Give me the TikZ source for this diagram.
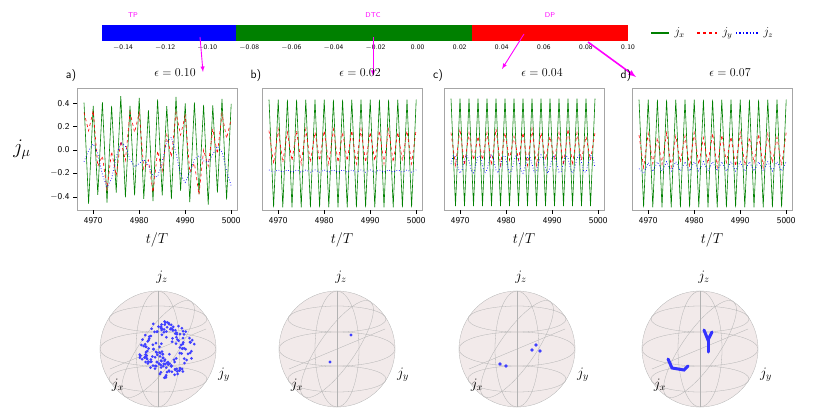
\documentclass[tikz,border=0pt]{standalone}
\usepackage{tikz}
\usetikzlibrary{calc}
\usepackage{xcolor}
\definecolor{phaseBlue}{RGB}{0, 0, 255}
\definecolor{phaseGreen}{RGB}{0, 128, 0}
\definecolor{phaseRed}{RGB}{255, 0, 0}
\definecolor{markColor}{RGB}{255, 0, 255}
\definecolor{ballColor}{RGB}{242, 234, 234}

\tikzset{
  jx/.style={draw=phaseGreen, line width=0.6pt},
  jy/.style={draw=phaseRed, dashed, line width=0.6pt},
  jz/.style={draw=phaseBlue, dotted, line width=0.7pt},
  pick/.style={markColor, -latex, line width=0.9pt},
  tick/.style={font=\sffamily\small},
  grid/.style={gray!60, line width=0.3pt},
  dot/.style={fill=phaseBlue!75}
}

\newcommand{\panelbox}[4]{% x0, label, title, name
  \draw[gray!70] (#1,88) rectangle ++(160,122);
  \node[font=\sffamily\large] (lab#4) at (#1-6,76) {#2};
  \node[font=\large] (tit#4) at (#1+98,73) {$\epsilon=#3$};
  \foreach \t/\k in {4970/2,4980/12,4990/22,5000/32}
    \draw (#1+7+4.6*\k,210) -- ++(0,4) node[below, tick] {\t};
  \node[font=\Large] at (#1+80,240) {$t/T$};
}

\newcommand{\bloch}[2]{% cx, name
  \begin{scope}[shift={(#1,349)}]
    \fill[ballColor] (0,0) coordinate (#2) circle (58);
    \draw[grid] (0,0) circle (58);
    \draw[grid] (0,0) ellipse (58 and 17);
    \draw[grid] (0,-30) ellipse (49 and 13);
    \draw[grid] (0,30) ellipse (49 and 13);
    \draw[grid] (0,0) ellipse (22 and 58);
    \draw[grid, rotate=-35] (0,0) ellipse (18 and 58);
    \draw[grid] (-48,20) -- (48,-20);
    \draw[grid] (0,-58) -- (0,58);
    \node[font=\Large] at (4,-72) {$j_z$};
    \node[font=\Large] at (-40,36) {$j_x$};
    \node[font=\Large] at (66,26) {$j_y$};
  \end{scope}
}

\begin{document}
\begin{tikzpicture}[x=1pt, y=-1pt]
  \useasboundingbox (0,0) rectangle (830,420);

  % Colour bar of phases
  \fill[phaseBlue] (102,25) rectangle (236,41);
  \fill[phaseGreen] (236,25) rectangle (472,41);
  \fill[phaseRed] (472,25) rectangle (628,41);
  \foreach \v [evaluate=\v as \px using 102+2104*(\v+0.15)] in {-0.14,-0.12,-0.10,-0.08,-0.06,-0.04,-0.02,0.00,0.02,0.04,0.06,0.08,0.10}
    \node[font=\sffamily\scriptsize, anchor=north, inner sep=1pt] at (\px,44) {$\mathsf{\v}$};
  \node[markColor, font=\sffamily\scriptsize] (TP) at (133,15) {TP};
  \node[markColor, font=\sffamily\scriptsize] (DTC) at (373,15) {DTC};
  \node[markColor, font=\sffamily\scriptsize] (DP) at (550,15) {DP};

  % Legend
  \draw[jx, line width=1.2pt] (651,33) -- (669,33);
  \node[font=\large, anchor=west] (lx) at (671,33) {$j_x$};
  \draw[jy, line width=1.2pt] (697,33) -- (717,33);
  \node[font=\large, anchor=west] (ly) at (719,33) {$j_y$};
  \draw[jz, line width=1.4pt] (736,33) -- (758,33);
  \node[font=\large, anchor=west] (lz) at (760,33) {$j_z$};

  % Picks on the bar
  \coordinate (pa) at (200,37);  \coordinate (qa) at (203,72);
  \coordinate (pb) at (373,37);  \coordinate (qb) at (373,76);
  \coordinate (pc) at (524,34);  \coordinate (qc) at (502,69);
  \coordinate (pd) at (588,42);  \coordinate (qd) at (636,77);
  \draw[pick] (pa) -- (qa);
  \draw[pick] (pb) -- (qb);
  \draw[pick] (pc) -- (qc);
  \draw[pick, line width=1.6pt] (pd) -- (qd);

  % Time traces
  \panelbox{77}{a)}{0.10}{a}
  \panelbox{262}{b)}{0.02}{b}
  \panelbox{444}{c)}{0.04}{c}
  \panelbox{632}{d)}{0.07}{d}
  \foreach \v in {-0.4,-0.2,0.0,0.2,0.4}
    \draw (77,150-117*\v) -- ++(-4,0) node[left, tick] {$\mathsf{\v}$};
  \node[font=\huge] at (22,150) {$j_\mu$};

  \begin{scope}[shift={(84,150)}, x=4.6pt, y=117pt]
    \draw[jx] plot[samples at={0,...,32}] (\x,{0.45*cos(180*\x)*(0.9+0.1*sin(97*\x))-0.02*sin(31*\x)});
    \draw[jy] plot[samples at={0,...,32}] (\x,{0.22*sin(37*\x+60)+0.13*cos(180*\x)+0.08*sin(71*\x)});
    \draw[jz] plot[samples at={0,...,32}] (\x,{-0.1+0.22*sin(53*\x)*sin(13*\x+20)});
  \end{scope}
  \begin{scope}[shift={(269,150)}, x=4.6pt, y=117pt]
    \draw[jx] plot[samples at={0,...,32}] (\x,{0.46*cos(180*\x)-0.03});
    \draw[jy] plot[samples at={0,...,32}] (\x,{0.03+0.15*cos(180*\x)*(0.9+0.1*sin(60*\x))});
    \draw[jz] plot[samples at={0,...,32}] (\x,{-0.18+0.01*cos(180*\x)});
  \end{scope}
  \begin{scope}[shift={(451,150)}, x=4.5pt, y=117pt]
    \draw[jx] plot[samples at={0,...,32}] (\x,{0.46*cos(180*\x)-0.02});
    \draw[jy] plot[samples at={0,...,32}] (\x,{0.02+0.16*cos(180*\x)*(0.8+0.2*sin(45*\x))});
    \draw[jz] plot[samples at={0,0.5,...,32}] (\x,{-0.12+0.08*sin(130*\x)});
  \end{scope}
  \begin{scope}[shift={(639,150)}, x=4.6pt, y=117pt]
    \draw[jx] plot[samples at={0,...,32}] (\x,{0.46*cos(180*\x)-0.03});
    \draw[jy] plot[samples at={0,...,32}] (\x,{0.0+0.15*cos(180*\x)*(0.85+0.15*sin(70*\x))});
    \draw[jz] plot[samples at={0,...,32}] (\x,{-0.14+0.04*cos(180*\x)-0.06*exp(-\x)});
  \end{scope}

  % Bloch spheres
  \bloch{158}{sa}
  \bloch{337}{sb}
  \bloch{517}{sc}
  \bloch{700}{sd}
  \pgfmathsetseed{7}
  \foreach \i in {1,...,170}
    \fill[dot] ($(sa)+(8,0)+({360*rnd}:{29*sqrt(rnd)})$) circle (1.5);
  \foreach \p in {(351,335),(330,362)}
    \fill[dot] \p circle (1.6);
  \foreach \p in {(500,364),(506,366),(536,345),(540,351),(532,350)}
    \fill[dot] \p circle (1.8);
  \draw[phaseBlue!80, line width=3pt, line cap=round] (668,359) -- (672,368) -- (684,370) -- (688,366);
  \draw[phaseBlue!80, line width=3pt, line cap=round] (704,330) -- (708,340) -- (712,332);
  \draw[phaseBlue!80, line width=3pt, line cap=round] (708,340) -- (708,352);
\end{tikzpicture}
\end{document}
